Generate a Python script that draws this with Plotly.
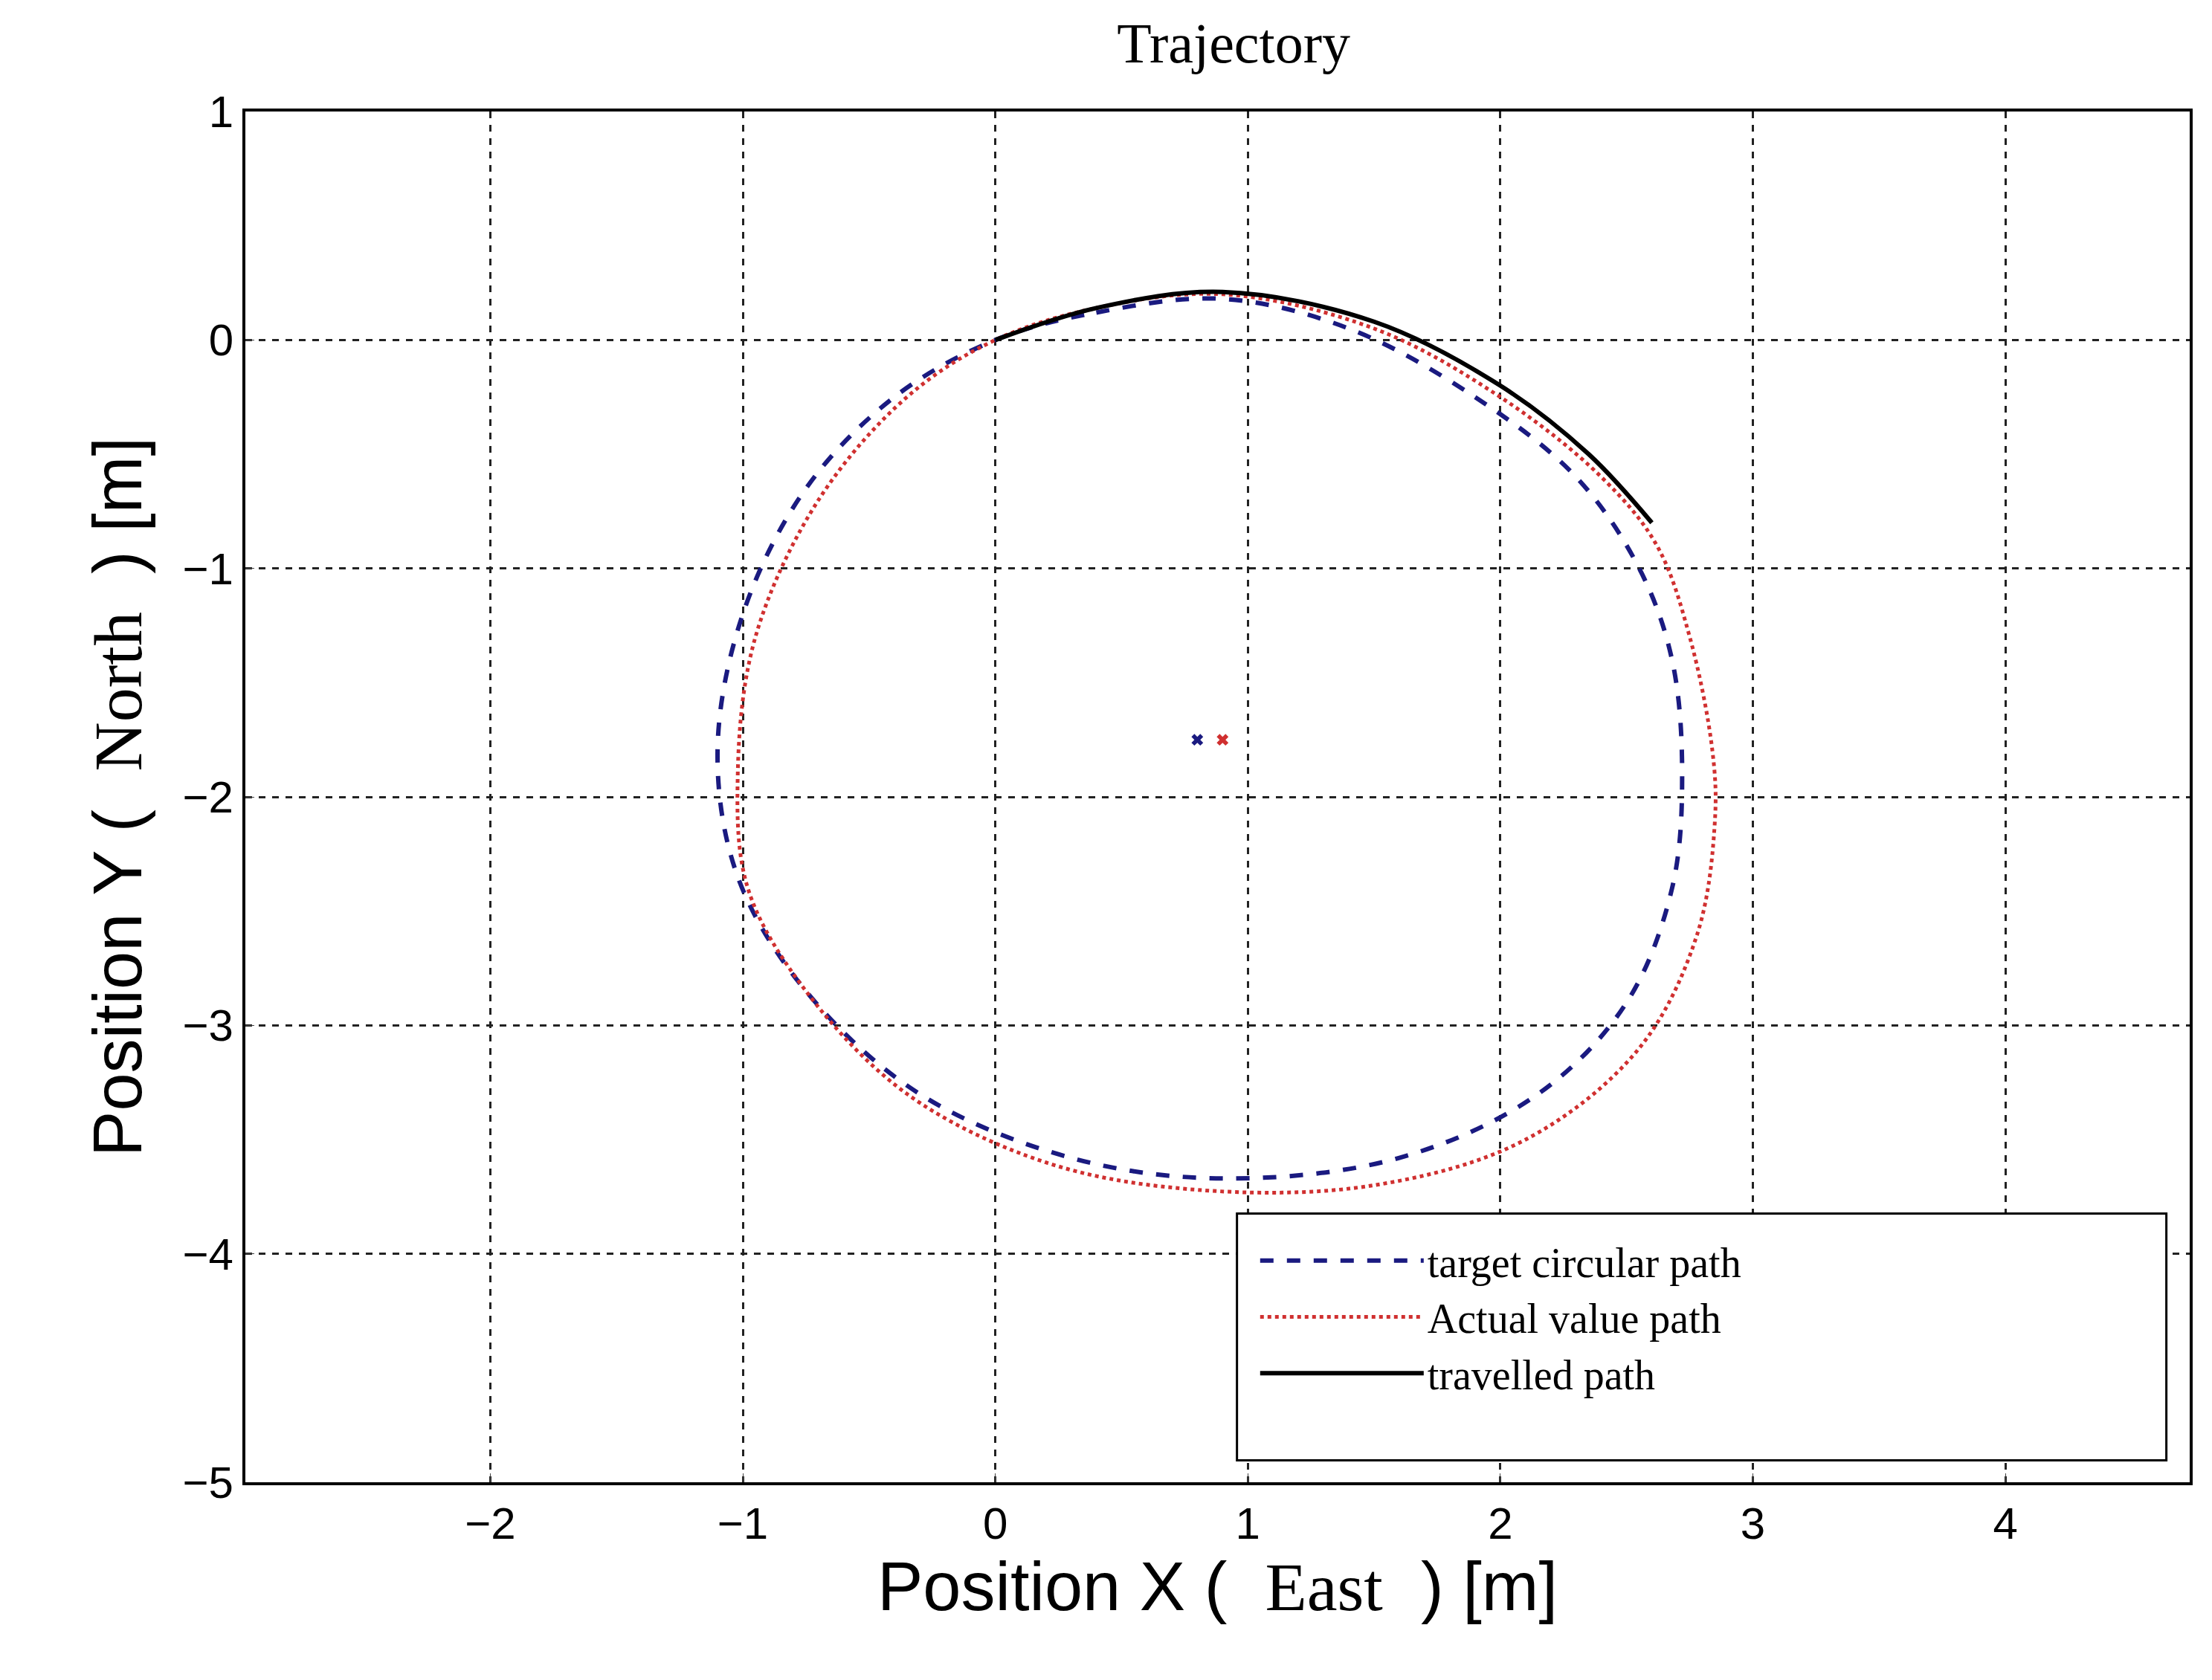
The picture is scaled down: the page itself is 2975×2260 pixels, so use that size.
import plotly.graph_objects as go

tx = [0,0.4,0.9,1.4,1.9,2.3,2.55,2.68,2.72,2.68,2.5,2.15,1.6,0.9,0.3,-0.3,-0.75,-1.02,-1.1,-1.0,-0.75,-0.4,0]
ty = [0,0.12,0.18,0.05,-0.25,-0.6,-1.0,-1.4,-1.9,-2.4,-2.9,-3.3,-3.58,-3.67,-3.58,-3.3,-2.85,-2.35,-1.8,-1.2,-0.65,-0.25,0]
ax_ = [0,0.4,0.9,1.5,2.0,2.4,2.62,2.75,2.84,2.85,2.78,2.55,2.1,1.5,0.8,0.2,-0.35,-0.75,-0.98,-1.02,-0.95,-0.7,-0.35,0]
ay_ = [0,0.14,0.2,0.05,-0.25,-0.6,-0.9,-1.3,-1.8,-2.1,-2.6,-3.1,-3.5,-3.7,-3.72,-3.6,-3.3,-2.85,-2.4,-1.9,-1.3,-0.7,-0.25,0]
vx = [0,0.4,0.9,1.5,2.0,2.35,2.6]
vy = [0,0.14,0.21,0.08,-0.2,-0.5,-0.8]
cx = [0.8, 0.9]
cy = [-1.75, -1.75]

fig = go.Figure()
fig.add_trace(go.Scatter(x=tx, y=ty, mode="lines", name="target circular path",
                         line=dict(color="#1a1a80", width=6, dash="dash", shape="spline")))
fig.add_trace(go.Scatter(x=ax_, y=ay_, mode="lines", name="Actual value path",
                         line=dict(color="#d03030", width=5, dash="dot", shape="spline")))
fig.add_trace(go.Scatter(x=vx, y=vy, mode="lines", name="travelled path",
                         line=dict(color="black", width=6, shape="spline")))
fig.add_trace(go.Scatter(x=cx[:1], y=cy[:1], mode="markers", showlegend=False,
                         marker=dict(symbol="x", size=14, color="#1a1a80")))
fig.add_trace(go.Scatter(x=cx[1:], y=cy[1:], mode="markers", showlegend=False,
                         marker=dict(symbol="x", size=14, color="#d03030")))

serif = "Liberation Serif"
fig.add_shape(type="rect", xref="paper", yref="paper", x0=0.51, x1=0.988, y0=0.016, y1=0.196,
              line=dict(color="black", width=3), fillcolor="white", layer="above")
fig.update_layout(
    width=2975, height=2260, plot_bgcolor="white", paper_bgcolor="white",
    margin=dict(l=322, r=38, t=142, b=274),
    title=dict(text="Trajectory", x=0.555, xanchor="center", y=0.99, yanchor="top",
               font=dict(family=serif, size=76, color="black")),
    legend=dict(x=0.52, y=0.185, xanchor="left", yanchor="top",
                borderwidth=0, bgcolor="rgba(0,0,0,0)", tracegroupgap=0,
                font=dict(family=serif, size=56, color="black"), itemwidth=220),
    showlegend=True,
)
common = dict(showgrid=True, gridcolor="#222", griddash="dash", gridwidth=2.5,
              showline=True, linecolor="black", linewidth=4, mirror=True,
              ticks="inside", ticklen=12, zeroline=False,
              tickfont=dict(family="Liberation Sans", size=60, color="black"))
fig.update_xaxes(range=[-2.97, 4.73], tickvals=[-2,-1,0,1,2,3,4],
                 ticktext=["−2","−1","0","1","2","3","4"], **common,
                 title=dict(text='Position X (  <span style="font-family:Liberation Serif">East</span>  ) [m]',
                            font=dict(family="Liberation Sans", size=92, color="black"), standoff=20))
fig.update_yaxes(range=[-5, 1], tickvals=[-5,-4,-3,-2,-1,0,1],
                 ticktext=["−5","−4","−3","−2","−1","0","1"], **common,
                 title=dict(text='Position Y (  <span style="font-family:Liberation Serif">North</span>  ) [m]',
                            font=dict(family="Liberation Sans", size=92, color="black"), standoff=25))
fig.write_html("out.html")
